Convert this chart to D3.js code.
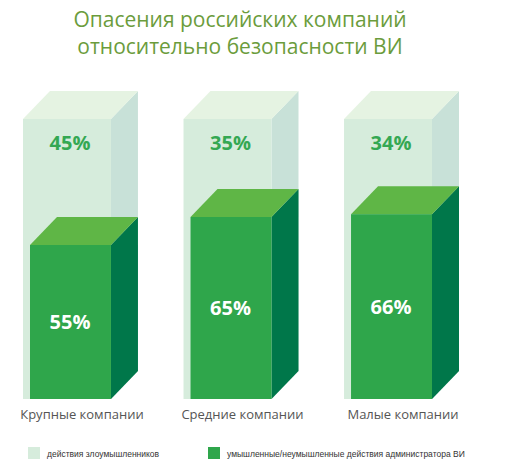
<!DOCTYPE html>
<html><head><meta charset="utf-8">
<script src="https://cdn.jsdelivr.net/npm/d3@7"></script>
<style>body{margin:0;background:#fff}</style>
</head><body><div id="chart"></div>
<script>
const categories = ["Крупные компании", "Средние компании", "Малые компании"];
const insider = [55, 65, 66];
const attackers = [45, 35, 34];
const legendLabels = ["действия злоумышленников", "умышленные/неумышленные действия администратора ВИ"];

const width = 509, height = 475;
const dx = 27, dy = 28;
const svg = d3.select("#chart").append("svg").attr("width", width).attr("height", height);

svg.append("g").selectAll("text")
    .data(["Опасения российских компаний", "относительно безопасности ВИ"])
    .join("text")
    .attr("x", 240).attr("y", (d, i) => 27 + i * 27)
    .attr("text-anchor", "middle")
    .attr("font-family", "Open Sans, sans-serif").attr("font-size", 21)
    .attr("fill", "#6b9c3c").text(d => d);

const x = d3.scaleBand().domain(categories).range([23, 432]).paddingInner(0.452).paddingOuter(0);
const y = d3.scaleLinear().domain([0, 100]).range([399, 119]);

function box(g, x0, x1, yTop, yBot, front, side, top) {
    g.append("path").attr("d", `M${x1},${yBot}L${x1 + dx},${yBot - dy}L${x1 + dx},${yTop - dy}L${x1},${yTop}Z`).attr("fill", side);
    g.append("path").attr("d", `M${x0},${yTop}L${x0 + dx},${yTop - dy}L${x1 + dx},${yTop - dy}L${x1},${yTop}Z`).attr("fill", top);
    g.append("rect").attr("x", x0).attr("y", yTop).attr("width", x1 - x0).attr("height", yBot - yTop).attr("fill", front);
}

categories.forEach((c, i) => {
    const g = svg.append("g");
    const x0 = x(c), x1 = x(c) + x.bandwidth();
    box(g, x0, x1, y(100), y(0), "#d6ecdc", "#c8e1d8", "#e5f3e2");
    box(g, x0 + 7, x1, y(insider[i]), y(0), "#2fa64b", "#00774a", "#5fb646");
    const cx = (x0 + x1) / 2 + 3;
    g.append("text").attr("x", cx).attr("y", 150).attr("text-anchor", "middle")
        .attr("font-family", "Open Sans, sans-serif").attr("font-weight", "bold").attr("font-size", 20)
        .attr("fill", "#34a853").text(attackers[i] + "%");
    g.append("text").attr("x", cx).attr("y", (y(insider[i]) + y(0)) / 2 + 7).attr("text-anchor", "middle")
        .attr("font-family", "Open Sans, sans-serif").attr("font-weight", "bold").attr("font-size", 20)
        .attr("fill", "#fff").text(insider[i] + "%");
    g.append("text").attr("x", cx + 12).attr("y", 419).attr("text-anchor", "middle")
        .attr("font-family", "Open Sans, sans-serif").attr("font-size", 13)
        .attr("fill", "#555").text(c);
});

const leg = svg.append("g").selectAll("g").data(legendLabels).join("g")
    .attr("transform", (d, i) => `translate(${[28, 208][i]},447)`);
leg.append("rect").attr("width", 12).attr("height", 12).attr("fill", (d, i) => ["#d6ecdc", "#2fa64b"][i]);
leg.append("text").attr("x", 19).attr("y", 9.5)
    .attr("font-family", "Liberation Sans, Arial, sans-serif").attr("font-size", 8.5)
    .attr("fill", "#333").text(d => d);
</script></body></html>
